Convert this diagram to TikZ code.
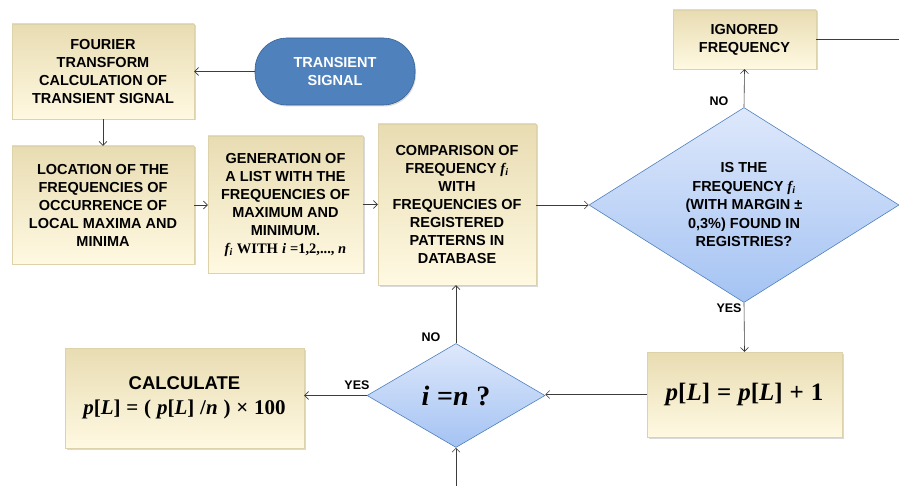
\documentclass[tikz,border=0pt]{standalone}
\usepackage{fontspec}
\setmainfont{Liberation Sans}
\newfontfamily\timesfont{Liberation Serif}
\usetikzlibrary{shapes.geometric,shadows,arrows.meta}

\definecolor{boxtop}{RGB}{232,220,178}
\definecolor{boxbot}{RGB}{255,249,226}
\definecolor{boxedge}{RGB}{222,210,170}
\definecolor{dtop}{RGB}{222,232,251}
\definecolor{dbot}{RGB}{164,195,243}
\definecolor{dedge}{RGB}{79,129,189}
\definecolor{startfill}{RGB}{79,129,189}
\definecolor{startedge}{RGB}{58,100,150}
\definecolor{linegray}{RGB}{60,60,60}

% italic / upright variables in serif bold
\newcommand{\tv}[1]{{\timesfont\bfseries\itshape #1}}
\newcommand{\tu}[1]{{\timesfont\bfseries #1}}

\tikzset{
  procbox/.style={rectangle, top color=boxtop, bottom color=boxbot, draw=boxedge,
    line width=0.4pt, align=center, inner sep=2pt,
    drop shadow={shadow xshift=1.5pt,shadow yshift=-1.5pt,opacity=0.3},
    font=\bfseries\fontsize{14.5}{18}\selectfont},
  startbox/.style={rectangle, rounded corners=32pt, fill=startfill, draw=startedge,
    line width=0.6pt, text=white, align=center,
    drop shadow={shadow xshift=1pt,shadow yshift=-1.5pt,opacity=0.3},
    font=\bfseries\fontsize{14.5}{18}\selectfont},
  decision/.style={diamond, top color=dtop, bottom color=dbot, draw=dedge,
    line width=0.6pt, inner sep=0pt},
  dtext/.style={align=center, font=\bfseries\fontsize{14.5}{18.5}\selectfont},
  flow/.style={-{Straight Barb[length=4pt,width=8pt]}, draw=linegray, line width=0.6pt},
  answer/.style={font=\bfseries\fontsize{12.5}{14}\selectfont, inner sep=0pt}
}

\begin{document}
\begin{tikzpicture}[x=1pt,y=-1pt]
  \useasboundingbox (0,0) rectangle (899,486);

  % boxes
  \node[procbox, minimum width=182pt, minimum height=95pt] (fourier) at (103,71.5)
    {FOURIER\\TRANSFORM\\CALCULATION OF\\TRANSIENT SIGNAL};
  \node[startbox, minimum width=160pt, minimum height=67pt] (signal) at (335,71.5)
    {TRANSIENT\\SIGNAL};
  \node[procbox, minimum width=182pt, minimum height=118pt] (location) at (103,205)
    {LOCATION OF THE\\FREQUENCIES OF\\OCCURRENCE OF\\LOCAL MAXIMA AND\\MINIMA};
  \node[procbox, minimum width=155pt, minimum height=137pt] (generation) at (285.5,204.5)
    {GENERATION OF\\A LIST WITH THE\\FREQUENCIES OF\\MAXIMUM AND\\MINIMUM.\\
     \tv{f\textsubscript{i}} \tu{WITH} \tv{i} \tu{=1,2,..., }\tv{n}};
  \node[procbox, minimum width=158pt, minimum height=161pt] (compare) at (457,204.5)
    {COMPARISON OF\\FREQUENCY \tv{f\textsubscript{i}}\\WITH\\FREQUENCIES OF\\REGISTERED\\PATTERNS IN\\DATABASE};
  \node[decision, minimum width=310pt, minimum height=195pt,
    label={[dtext]center:{IS THE\\FREQUENCY \tv{f\textsubscript{i}}\\(WITH MARGIN ±\\0,3\%) FOUND IN\\REGISTRIES?}}]
    (found) at (744,205) {};
  \node[procbox, minimum width=143pt, minimum height=59pt] (ignored) at (744.5,39.5)
    {IGNORED\\FREQUENCY};
  \node[procbox, minimum width=195pt, minimum height=85pt,
    font=\fontsize{25}{28}\selectfont] (count) at (744.5,394.5)
    {\tv{p}\tu{[}\tv{L}\tu{]} \tu{=} \tv{p}\tu{[}\tv{L}\tu{]} \tu{+} \tu{1}};
  \node[decision, minimum width=178pt, minimum height=104pt,
    label={[font=\fontsize{28}{30}\selectfont]center:{\tv{i} \tu{=}\tv{n} \tu{?}}}]
    (last) at (456,395.5) {};
  \node[procbox, minimum width=239pt, minimum height=100pt,
    font=\bfseries\fontsize{21}{25}\selectfont] (calc) at (184.5,398)
    {{\fontsize{18.5}{25}\selectfont CALCULATE}\\
     \tv{p}\tu{[}\tv{L}\tu{]} \tu{=} \tu{(} \tv{p}\tu{[}\tv{L}\tu{]} \tu{/}\tv{n} \tu{)} \tu{×} \tu{100}};

  \coordinate (exit) at (899,39.5);
  \coordinate (entry) at (456,486);

  % connectors
  \draw[flow] (signal.west) -- (fourier.east);
  \draw[flow] (fourier.south) -- (location.north);
  \draw[flow] (location.east) -- (generation.west |- location.east);
  \draw[flow] (generation.east) -- (compare.west |- generation.east);
  \draw[flow] (compare.east |- found.west) -- (found.west);
  \draw[flow] (found.north) -- (ignored.south);
  \draw[draw=linegray, line width=0.6pt] (ignored.east) -- (exit);
  \draw[flow] (found.south) -- (count.north);
  \draw[flow] (count.west) -- (last.east |- count.west);
  \draw[flow] (entry) -- (last.south);
  \draw[flow] (last.north) -- (compare.south -| last.north);
  \draw[flow] (last.west) -- (calc.east |- last.west);

  % answers
  \node[answer] (foundno) at (719,101) {NO};
  \node[answer] (foundyes) at (729,308) {YES};
  \node[answer] (lastno) at (431,337) {NO};
  \node[answer] (lastyes) at (357,385) {YES};
\end{tikzpicture}
\end{document}
